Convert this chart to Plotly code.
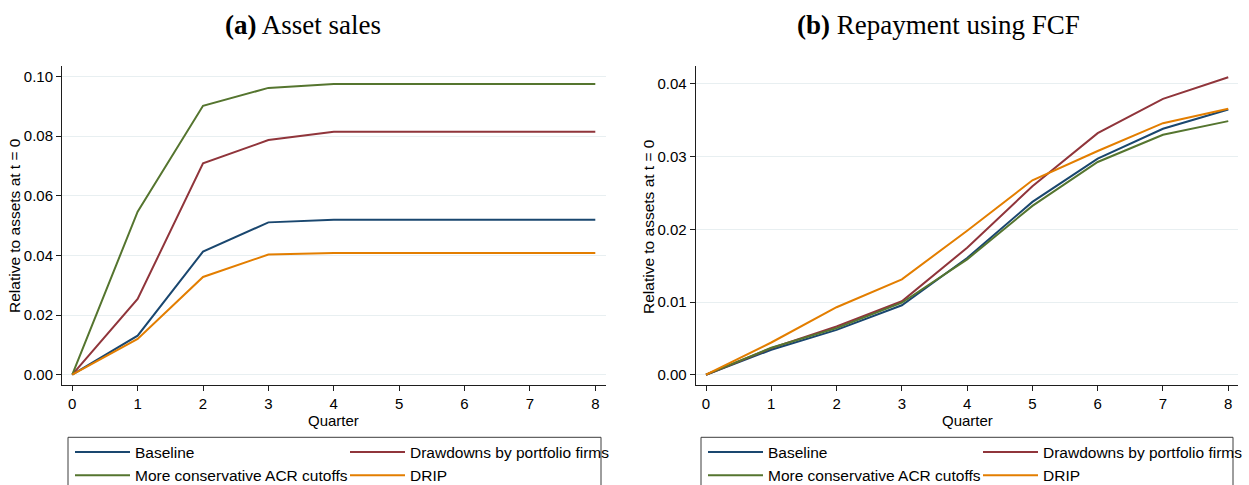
import plotly.graph_objects as go

quarters = [0, 1, 2, 3, 4, 5, 6, 7, 8]
series_names = ["Baseline", "Drawdowns by portfolio firms",
                "More conservative ACR cutoffs", "DRIP"]
series_colors = ["#1a476f", "#90353b", "#55752f", "#e37e00"]

# Panel (a): Asset sales
asset_baseline = [0, 0.0131, 0.0413, 0.0511, 0.0520, 0.0520, 0.0520, 0.0520, 0.0520]
asset_drawdowns = [0, 0.0254, 0.0709, 0.0787, 0.0815, 0.0815, 0.0815, 0.0815, 0.0815]
asset_conservative = [0, 0.0547, 0.0902, 0.0962, 0.0975, 0.0975, 0.0975, 0.0975, 0.0975]
asset_drip = [0, 0.0120, 0.0328, 0.0403, 0.0408, 0.0408, 0.0408, 0.0408, 0.0408]

# Panel (b): Repayment using FCF
fcf_baseline = [0, 0.00343, 0.00617, 0.00955, 0.01605, 0.02377, 0.02971, 0.03383, 0.03648]
fcf_drawdowns = [0, 0.00366, 0.00663, 0.0101, 0.01746, 0.02592, 0.03323, 0.03794, 0.04091]
fcf_conservative = [0, 0.0037, 0.0064, 0.0099, 0.01586, 0.02322, 0.02926, 0.0330, 0.03488]
fcf_drip = [0, 0.00443, 0.00928, 0.01312, 0.0198, 0.02674, 0.03077, 0.0346, 0.03657]

left_ticks = [0.00, 0.02, 0.04, 0.06, 0.08, 0.10]
left_ticktext = ["0.00", "0.02", "0.04", "0.06", "0.08", "0.10"]
right_ticks = [0.00, 0.01, 0.02, 0.03, 0.04]
right_ticktext = ["0.00", "0.01", "0.02", "0.03", "0.04"]

W, H = 1249, 485
SANS = "Liberation Sans, Arial, Helvetica, sans-serif"
SERIF = "Liberation Serif, Times New Roman, serif"

fig = go.Figure()

panels = [
    ("x", "y", "legend", "a", [asset_baseline, asset_drawdowns, asset_conservative, asset_drip]),
    ("x2", "y2", "legend2", "b", [fcf_baseline, fcf_drawdowns, fcf_conservative, fcf_drip]),
]
group_of = [1, 2, 1, 2]
for xa, ya, leg, tag, data in panels:
    for i, (name, col, vals) in enumerate(zip(series_names, series_colors, data)):
        kw = {}
        if group_of[i] == 2:
            kw["legendwidth"] = 205
        fig.add_trace(go.Scatter(
            x=quarters, y=vals, mode="lines", name=name,
            line=dict(color=col, width=2),
            xaxis=xa, yaxis=ya, legend=leg,
            legendgroup=f"{tag}{group_of[i]}",
            showlegend=True, **kw))


def px_x(p):
    return p / W


def px_y(p):
    return (H - p) / H


ydom = [px_y(384.7), px_y(66)]
axis_common = dict(showline=True, linecolor="#1e1e1e", linewidth=1,
                   ticks="outside", ticklen=5, tickcolor="#1e1e1e", tickwidth=1,
                   tickfont=dict(family=SANS, size=15, color="black"),
                   zeroline=False)
fig.update_layout(
    xaxis=dict(domain=[px_x(62), px_x(605.7)], range=[-0.157, 8.159],
               tickvals=quarters, showgrid=False, anchor="y", **axis_common),
    yaxis=dict(domain=ydom, range=[-0.00335, 0.10355], tickvals=left_ticks,
               ticktext=left_ticktext, showgrid=True, gridcolor="#e8eff1",
               gridwidth=1, anchor="x", **axis_common),
    xaxis2=dict(domain=[px_x(695.7), px_x(1238.3)], range=[-0.158, 8.154],
                tickvals=quarters, showgrid=False, anchor="y2", **axis_common),
    yaxis2=dict(domain=ydom, range=[-0.001375, 0.04246], tickvals=right_ticks,
                ticktext=right_ticktext, showgrid=True, gridcolor="#e8eff1",
                gridwidth=1, anchor="x2", **axis_common),
)

legend_common = dict(orientation="h", traceorder="grouped", xanchor="left",
                     yanchor="top", borderwidth=0,
                     bgcolor="rgba(0,0,0,0)", itemwidth=55, entrywidth=205,
                     tracegroupgap=0,
                     font=dict(family=SANS, size=15.5, color="black"))
fig.update_layout(
    legend=dict(x=px_x(70), y=px_y(435.4), **legend_common),
    legend2=dict(x=px_x(703), y=px_y(435.4), **legend_common),
)

# legend frames (Stata-style box, text may overflow it)
shapes = [
    dict(type="rect", xref="paper", yref="paper",
         x0=px_x(68), x1=px_x(601), y0=px_y(520), y1=px_y(437.3),
         line=dict(color="#3c3c3c", width=1), fillcolor="rgba(0,0,0,0)", layer="below"),
    dict(type="rect", xref="paper", yref="paper",
         x0=px_x(701), x1=px_x(1233), y0=px_y(520), y1=px_y(437.3),
         line=dict(color="#3c3c3c", width=1), fillcolor="rgba(0,0,0,0)", layer="below"),
]

annotations = [
    dict(text="<b>(a)</b> Asset sales", x=px_x(303), y=px_y(25),
         font=dict(family=SERIF, size=27, color="black")),
    dict(text="<b>(b)</b> Repayment using FCF", x=px_x(938), y=px_y(25),
         font=dict(family=SERIF, size=27, color="black")),
    dict(text="Relative to assets at t = 0", x=px_x(14), y=px_y(226), textangle=-90,
         font=dict(family=SANS, size=15.5, color="black")),
    dict(text="Relative to assets at t = 0", x=px_x(648), y=px_y(226), textangle=-90,
         font=dict(family=SANS, size=15.5, color="black")),
    dict(text="Quarter", x=px_x(333.8), y=px_y(420),
         font=dict(family=SANS, size=15, color="black")),
    dict(text="Quarter", x=px_x(967), y=px_y(420),
         font=dict(family=SANS, size=15, color="black")),
]
for a in annotations:
    a.update(xref="paper", yref="paper", xanchor="center", yanchor="middle",
             showarrow=False)
fig.update_layout(
    annotations=annotations,
    shapes=shapes,
    width=W, height=H,
    margin=dict(l=0, r=0, t=0, b=0, autoexpand=False),
    paper_bgcolor="white", plot_bgcolor="white",
    showlegend=True,
)

fig.write_html(
    "out.html",
    config={"displayModeBar": False},
    post_script="document.body.style.margin='0';document.body.style.overflow='hidden';",
)
